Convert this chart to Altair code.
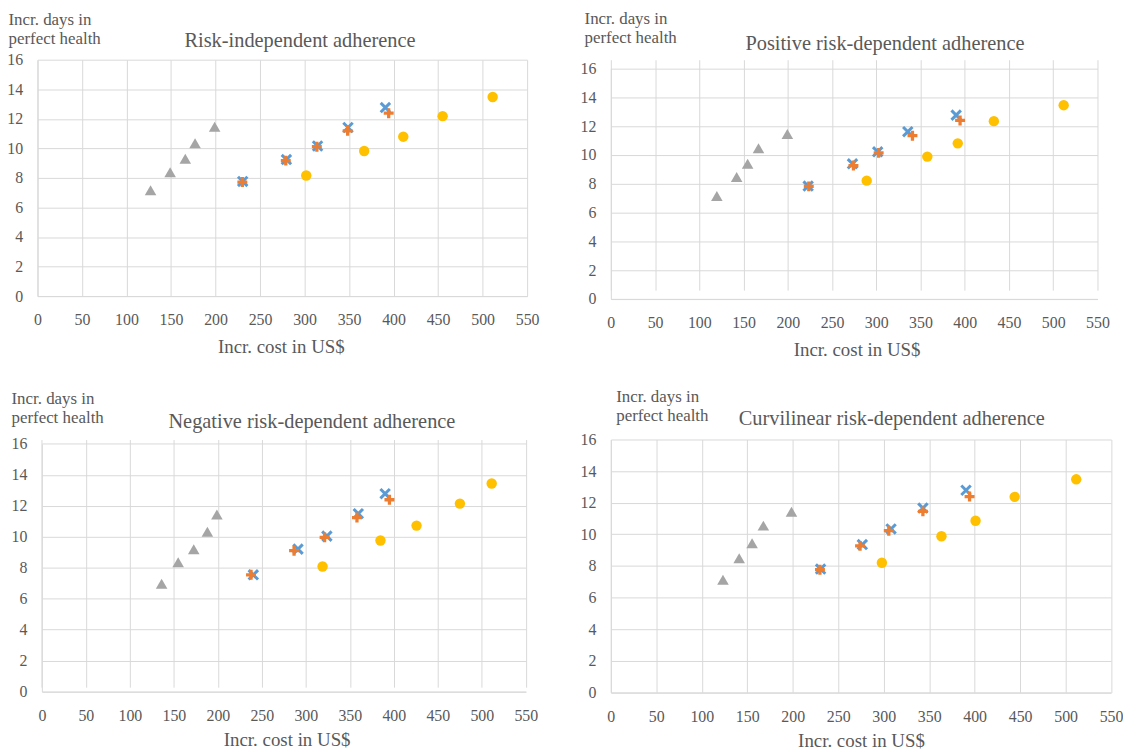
import altair as alt
import pandas as pd

FONT = "Liberation Serif"
TXT = "#595959"
GRID = "#D9D9D9"

titles = [
    "Risk-independent adherence",
    "Positive risk-dependent adherence",
    "Negative risk-dependent adherence",
    "Curvilinear risk-dependent adherence",
]
x_title = "Incr. cost in US$"
y_title = ["Incr. days in", "perfect health"]
x_ticks = [0, 50, 100, 150, 200, 250, 300, 350, 400, 450, 500, 550]
y_ticks = [0, 2, 4, 6, 8, 10, 12, 14, 16]

# ---- data ----
# panel 1: risk-independent adherence
p1_tri_x = [127, 149, 166, 177, 199]
p1_tri_y = [7.16, 8.39, 9.29, 10.34, 11.46]
p1_x_x = [230.5, 279.6, 314.6, 348.8, 390.8]
p1_x_y = [7.76, 9.24, 10.16, 11.41, 12.76]
p1_plus_x = [230.1, 278.9, 313.8, 348.4, 394.5]
p1_plus_y = [7.72, 9.17, 10.11, 11.19, 12.38]
p1_dot_x = [301.9, 367.0, 410.9, 455.1, 511.3]
p1_dot_y = [8.16, 9.82, 10.79, 12.18, 13.48]
# panel 2: positive risk-dependent adherence
p2_tri_x = [119.8, 142.2, 154.6, 166.9, 199.5]
p2_tri_y = [7.14, 8.46, 9.38, 10.46, 11.45]
p2_x_x = [223.0, 273.1, 301.6, 335.6, 390.3]
p2_x_y = [7.83, 9.38, 10.21, 11.61, 12.76]
p2_plus_x = [223.7, 274.2, 302.7, 340.9, 394.7]
p2_plus_y = [7.81, 9.26, 10.14, 11.33, 12.39]
p2_dot_x = [289.2, 357.7, 392.1, 432.9, 511.8]
p2_dot_y = [8.21, 9.88, 10.80, 12.34, 13.45]
# panel 3: negative risk-dependent adherence
p3_tri_x = [136.1, 154.9, 172.6, 188.1, 198.9]
p3_tri_y = [6.96, 8.35, 9.19, 10.32, 11.43]
p3_x_x = [240.3, 291.1, 323.9, 359.6, 390.1]
p3_x_y = [7.54, 9.20, 10.04, 11.49, 12.78]
p3_plus_x = [237.7, 286.6, 321.3, 358.1, 395.0]
p3_plus_y = [7.54, 9.10, 9.96, 11.24, 12.39]
p3_dot_x = [319.0, 384.8, 425.8, 475.1, 511.2]
p3_dot_y = [8.08, 9.76, 10.72, 12.14, 13.44]
# panel 4: curvilinear risk-dependent adherence
p4_tri_x = [123.3, 141.1, 155.3, 167.7, 198.6]
p4_tri_y = [7.13, 8.49, 9.43, 10.55, 11.43]
p4_x_x = [230.6, 276.5, 308.1, 343.1, 390.5]
p4_x_y = [7.80, 9.35, 10.34, 11.66, 12.79]
p4_plus_x = [229.9, 274.0, 305.6, 343.1, 394.4]
p4_plus_y = [7.76, 9.27, 10.23, 11.45, 12.39]
p4_dot_x = [298.0, 363.5, 401.0, 444.0, 511.7]
p4_dot_y = [8.20, 9.88, 10.86, 12.37, 13.48]

panel_data = [
    (p1_tri_x, p1_tri_y, p1_x_x, p1_x_y, p1_plus_x, p1_plus_y, p1_dot_x, p1_dot_y),
    (p2_tri_x, p2_tri_y, p2_x_x, p2_x_y, p2_plus_x, p2_plus_y, p2_dot_x, p2_dot_y),
    (p3_tri_x, p3_tri_y, p3_x_x, p3_x_y, p3_plus_x, p3_plus_y, p3_dot_x, p3_dot_y),
    (p4_tri_x, p4_tri_y, p4_x_x, p4_x_y, p4_plus_x, p4_plus_y, p4_dot_x, p4_dot_y),
]

# ---- layout (pixels, per panel) ----
layout = [
    dict(w=493, h=238, xr=[0, 493], yr=[238, 0], yoff=0,
         tx=264.3, ty=-18.5, ytx=-29.7, yty=-35, xtx=245, xty=57),
    dict(w=490, h=240.8, xr=[0, 490], yr=[240.8, 8.8], yoff=0,
         tx=276, ty=-15.5, ytx=-27, yty=-36.5, xtx=247.5, xty=57),
    dict(w=487.1, h=253.8, xr=[4.4, 491.7], yr=[253.8, 4.4], yoff=-4.4,
         tx=276.3, ty=-17.5, ytx=-31.1, yty=-36.4, xtx=250.9, xty=54.5),
    dict(w=503.7, h=254.6, xr=[0, 503.7], yr=[254.6, 0], yoff=0,
         tx=282.9, ty=-20.2, ytx=4.9, yty=-38.2, xtx=251.9, xty=54.5),
]

X_PATH = "M-1,-1L1,1M1,-1L-1,1"
PLUS_PATH = "M-1,0L1,0M0,-1L0,1"


def make_panel(i):
    L = layout[i]
    tx, ty, xx, xy, px, py, dx, dy = panel_data[i]
    xenc = alt.X(
        "x:Q",
        scale=alt.Scale(domain=[0, 550], range=L["xr"], nice=False, zero=False),
        axis=alt.Axis(
            values=x_ticks, grid=True, gridColor=GRID, gridWidth=1,
            domainColor=GRID, domainWidth=1, ticks=False,
            labelFont=FONT, labelFontSize=16, labelColor=TXT,
            labelPadding=24, labelBaseline="middle", labelFlush=False,
            labelOverlap=False,
            title=x_title, titleFont=FONT, titleFontSize=19,
            titleFontWeight="normal", titleColor=TXT,
            titleX=L["xtx"], titleY=L["xty"], titleBaseline="alphabetic",
            titleAlign="center",
        ),
    )
    yenc = alt.Y(
        "y:Q",
        scale=alt.Scale(domain=[0, 16], range=L["yr"], nice=False, zero=False),
        axis=alt.Axis(
            values=y_ticks, grid=True, gridColor=GRID, gridWidth=1,
            domainColor=GRID, domainWidth=1, ticks=False, offset=L["yoff"],
            labelFont=FONT, labelFontSize=16, labelColor=TXT,
            labelPadding=15, labelFlush=False, labelOverlap=False,
            title=y_title, titleFont=FONT, titleFontSize=17,
            titleFontWeight="normal", titleColor=TXT, titleAngle=0,
            titleAlign="left", titleBaseline="alphabetic",
            titleX=L["ytx"], titleY=L["yty"], titleLineHeight=19,
        ),
    )

    def df(a, b):
        return pd.DataFrame({"x": a, "y": b})

    tri = alt.Chart(df(tx, ty)).mark_point(
        shape="triangle-up", filled=True, color="#A5A5A5", size=135, opacity=1
    ).encode(x=xenc, y=yenc)
    xs = alt.Chart(df(xx, xy)).mark_point(
        shape=X_PATH, filled=False, color="#5B9BD5", size=90,
        strokeWidth=3, opacity=1
    ).encode(x=xenc, y=yenc)
    pl = alt.Chart(df(px, py)).mark_point(
        shape=PLUS_PATH, filled=False, color="#ED7D31", size=100,
        strokeWidth=3.3, opacity=1
    ).encode(x=xenc, y=yenc)
    dots = alt.Chart(df(dx, dy)).mark_point(
        shape="circle", filled=True, color="#FFC000", size=110, opacity=1
    ).encode(x=xenc, y=yenc)
    ttl = alt.Chart(pd.DataFrame({"t": [titles[i]]})).mark_text(
        font=FONT, fontSize=20.5, color=TXT, align="center", baseline="middle"
    ).encode(text="t:N", x=alt.value(L["tx"]), y=alt.value(L["ty"]))

    return alt.layer(tri, xs, pl, dots, ttl).properties(width=L["w"], height=L["h"])


chart = alt.concat(
    make_panel(0), make_panel(1), make_panel(2), make_panel(3),
    columns=2,
    spacing={"row": 141.4, "column": 84.3},
).properties(
    align="none", bounds="flush",
    padding={"top": -1.5, "left": -1.3, "right": 0, "bottom": 0},
    background="white",
).configure_view(
    strokeWidth=0
)

chart.save("out.html", embed_options={"renderer": "svg", "actions": False})
